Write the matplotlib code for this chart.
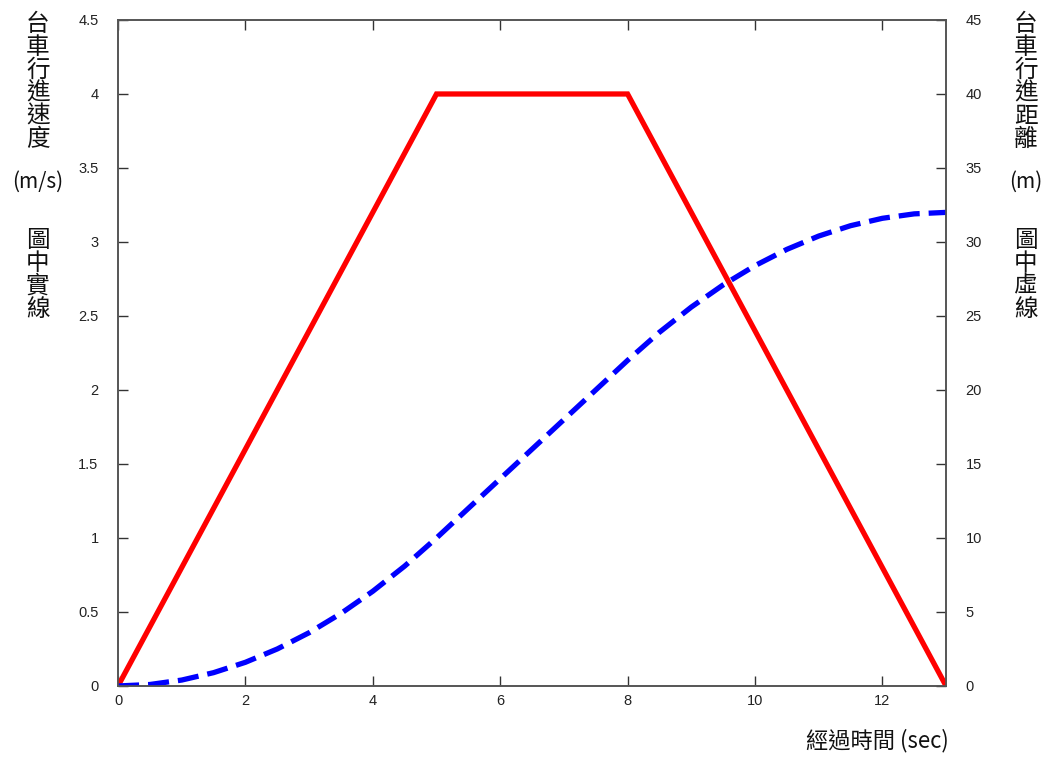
import matplotlib
matplotlib.use("Agg")
import matplotlib.pyplot as plt
from matplotlib.ticker import FuncFormatter

plt.rcParams['font.family'] = ['Noto Sans CJK TC', 'DejaVu Sans']

# velocity (red, solid) - left axis
vel_t = [0, 5, 8, 13]
vel_v = [0, 4, 4, 0]

# travelled distance (blue, dashed) - right axis
dist_t = [0, 0.5, 1, 1.5, 2, 2.5, 3, 3.5, 4, 4.5, 5, 5.5, 6, 6.5, 7, 7.5,
          8, 8.5, 9, 9.5, 10, 10.5, 11, 11.5, 12, 12.5, 13]
dist_d = [0, 0.1, 0.4, 0.9, 1.6, 2.5, 3.6, 4.9, 6.4, 8.1, 10, 12, 14, 16, 18, 20,
          22, 23.9, 25.6, 27.1, 28.4, 29.5, 30.4, 31.1, 31.6, 31.9, 32]

left_ticks = [0, 0.5, 1, 1.5, 2, 2.5, 3, 3.5, 4, 4.5]
right_ticks = [0, 5, 10, 15, 20, 25, 30, 35, 40, 45]
x_ticks = [0, 2, 4, 6, 8, 10, 12]

fig = plt.figure(figsize=(10.5, 7.6), dpi=100)
ax = fig.add_axes([0.1124, 0.0974, 0.7886, 0.8763])
ax2 = ax.twinx()

ax.plot(vel_t, vel_v, color='#ff0000', lw=3.8, solid_joinstyle='miter', zorder=3)
line, = ax2.plot(dist_t, dist_d, color='#0000ff', lw=3.8)
line.set_dashes((4, 1.7))

ax.set_xlim(0, 13)
ax.set_ylim(0, 4.5)
ax2.set_ylim(0, 45)
ax.set_xticks(x_ticks)
ax.set_yticks(left_ticks)
ax2.set_yticks(right_ticks)
ax.yaxis.set_major_formatter(FuncFormatter(lambda v, p: f"{v:g}"))

for a in (ax, ax2):
    for s in a.spines.values():
        s.set_color('#555555')
        s.set_linewidth(1.2)
    a.tick_params(direction='in', length=7, width=1, color='#333333',
                  labelsize=10.5, labelcolor='#222222')
    for t in a.get_xticklabels() + a.get_yticklabels():
        t.set_family('Liberation Sans')
ax.tick_params(axis='y', pad=14)
ax.tick_params(axis='x', pad=6, top=True)
ax2.tick_params(axis='y', pad=14)

def stacked(s):
    return "\n".join(s)

lab = dict(fontsize=17, ha='center', va='top', linespacing=1.0, color='#111111')
fig.text(0.036, 0.983, stacked("台車行進速度"), **lab)
fig.text(0.036, 0.775, "(m/s)", fontsize=15, ha='center', va='top', color='#111111')
fig.text(0.036, 0.699, stacked("圖中實線"), **lab)
fig.text(0.977, 0.983, stacked("台車行進距離"), **lab)
fig.text(0.977, 0.775, "(m)", fontsize=15, ha='center', va='top', color='#111111')
fig.text(0.977, 0.699, stacked("圖中虛線"), **lab)
fig.text(0.836, 0.026, "經過時間 (sec)", fontsize=16, ha='center', va='center', color='#111111')

fig.savefig("out.png", dpi=100)
